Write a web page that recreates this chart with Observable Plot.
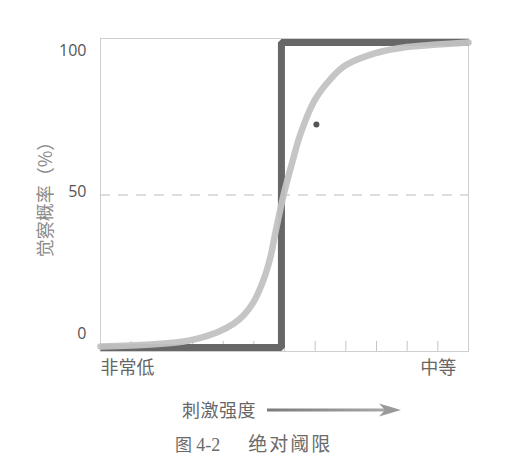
<!DOCTYPE html>
<html>
<head>
<meta charset="utf-8">
<script src="https://cdn.jsdelivr.net/npm/d3@7"></script>
<script src="https://cdn.jsdelivr.net/npm/@observablehq/plot@0.6"></script>
<style>
  html, body { margin: 0; padding: 0; background: #fff; }
  #wrap { position: relative; width: 515px; height: 475px; overflow: hidden; }
  #chart { position: absolute; left: 0; top: 0; }
  .cn { font-family: "Noto Sans CJK SC", sans-serif; color: #666; position: absolute; white-space: nowrap; }
  #xtitle { left: 182px; top: 397px; font-size: 18px; line-height: 24px; letter-spacing: 0.5px; }
  #arrow { position: absolute; left: 265px; top: 402px; }
  #caption { left: 175px; top: 430px; font-size: 19px; line-height: 26px; color: #6a6a6a; }
  #caption .fig { font-size: 17px; }
  #caption .num { font-family: "Liberation Serif", serif; font-size: 18px; }
  #caption .title { letter-spacing: 2px; }
</style>
</head>
<body>
<div id="wrap">
  <div id="chart"></div>
  <div class="cn" id="xtitle">刺激强度</div>
  <svg id="arrow" width="140" height="16">
    <defs>
      <linearGradient id="g" x1="0" x2="1" y1="0" y2="0">
        <stop offset="0" stop-color="#7a7a7a"/>
        <stop offset="1" stop-color="#a8a8a8"/>
      </linearGradient>
    </defs>
    <rect x="2" y="6.5" width="118" height="3" fill="url(#g)"/>
    <path d="M114,1.5 L136,8 L114,14.5 L120,8 Z" fill="#9a9a9a"/>
  </svg>
  <div class="cn" id="caption"><span class="fig">图</span> <span class="num">4-2</span><span style="display:inline-block;width:28px"></span><span class="title">绝对阈限</span></div>
</div>
<script>
// Data
const stimulus = [0, 1.63, 2.71, 3.26, 3.81, 4.34, 4.66, 4.99, 5.31, 5.54, 5.71, 5.97, 6.26, 6.52, 6.98, 7.5, 7.99, 8.97, 9.98, 10.96, 12];
const detectProb = [0.3, 1.0, 2.0, 3.2, 5.0, 7.8, 10.5, 14.9, 22, 29.6, 38, 50, 61, 70, 81, 88, 92.5, 96.5, 98.5, 99.3, 100];
const stepX = [0, 5.9, 5.9, 12];
const stepY = [0, 0, 100, 100];
const xTicks = [1, 2, 3, 4, 5, 6, 7, 8, 9, 10, 11];
const yTicks = [0, 50, 100];
const xLowLabel = "非常低";
const xHighLabel = "中等";
const xLowPos = 0;
const xHighPos = 11.6;
const yTitle = "觉察概率（%）";
const markX = [7.04];
const markY = [73.1];

const sigmoid = stimulus.map((x, i) => ({x, y: detectProb[i]}));
const step = stepX.map((x, i) => ({x, y: stepY[i]}));
const marks = markX.map((x, i) => ({x, y: markY[i]}));

const yMin = -1.3, yMax = 101.3;
// tick labels in the source sit on a slightly compressed spacing
const labelPos = d => 4.6 + d * 0.928;
const endStyle = {frameAnchor: "bottom", dy: 22, fontSize: 18, fill: "#666", fontFamily: "Noto Sans CJK SC, sans-serif"};

const plot = Plot.plot({
  width: 515,
  height: 390,
  marginLeft: 100,
  marginRight: 47,
  marginTop: 38,
  marginBottom: 39,
  x: {domain: [0, 12], axis: null},
  y: {domain: [yMin, yMax], axis: null},
  style: {background: "#fff"},
  marks: [
    Plot.frame({stroke: "#cfcfcf", strokeWidth: 1}),
    Plot.ruleY([50], {stroke: "#bdbdbd", strokeDasharray: "10,8", strokeWidth: 1}),
    Plot.ruleX(xTicks, {y1: yMin, y2: yMin + 3.3, stroke: "#c4c4c4", strokeWidth: 1}),
    Plot.line(step, {x: "x", y: "y", stroke: "#676767", strokeWidth: 7, strokeLinejoin: "miter", strokeLinecap: "butt"}),
    Plot.line(sigmoid, {x: "x", y: "y", curve: "catmull-rom", stroke: "#c2c2c2", strokeWidth: 6.5, strokeOpacity: 0.95}),
    Plot.dot(marks, {x: "x", y: "y", r: 3, fill: "#555", stroke: null}),
    Plot.text(yTicks, {
      x: 0, y: labelPos, text: d => String(d), textAnchor: "end", dx: -14,
      fontSize: 16, fill: "#555", fontFamily: "Open Sans, sans-serif"
    }),
    Plot.text([yTitle], {
      frameAnchor: "left", dx: -54, rotate: -90, text: d => d, textAnchor: "middle",
      fontSize: 18, fill: "#8a8a8a", fontFamily: "Noto Sans CJK SC, sans-serif"
    }),
    Plot.text([xLowLabel], {x: xLowPos, text: d => d, textAnchor: "start", ...endStyle}),
    Plot.text([xHighLabel], {x: xHighPos, text: d => d, textAnchor: "end", ...endStyle})
  ]
});
document.getElementById("chart").appendChild(plot);
</script>
</body>
</html>
